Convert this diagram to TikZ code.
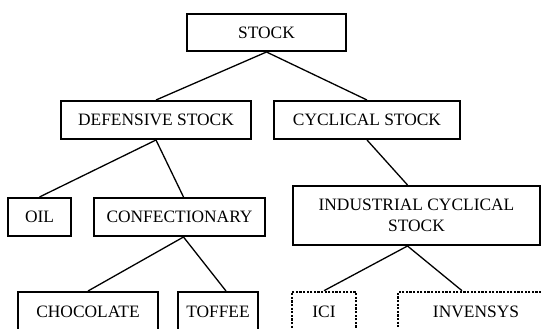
\documentclass[tikz,border=0pt]{standalone}
\usepackage{fontspec}
\setmainfont{Liberation Serif}
\usetikzlibrary{positioning}
\tikzset{
  box/.style={
    rectangle, draw=black, line width=2pt, fill=white,
    minimum height=38pt, inner sep=0pt,
    align=center, font=\fontsize{17.4}{21}\selectfont
  },
  dotbox/.style={box, line width=2.6pt, dash pattern=on 2.2pt off 1.4pt},
  link/.style={line width=1.3pt, draw=black}
}

\begin{document}
\begin{tikzpicture}[x=1pt, y=-1pt, node distance=21pt]
  \useasboundingbox (0,0) rectangle (541,329);
  \clip (0,0) rectangle (541,329);

  \node[box, minimum width=159pt, minimum height=37pt] (stock) at (266.5,32.5) {STOCK};
  \node[box, minimum width=190pt] (defensive) at (156,120) {DEFENSIVE STOCK};
  \node[box, minimum width=186pt, right=of defensive] (cyclical) {CYCLICAL STOCK};
  \node[box, minimum width=63pt] (oil) at (39.5,217) {OIL};
  \node[box, minimum width=171pt, right=of oil] (confect) {CONFECTIONARY};
  \node[box, minimum width=247pt, minimum height=59pt] (industrial) at (416.5,215.5)
    {INDUSTRIAL CYCLICAL\\STOCK};
  \node[box, minimum width=140pt, minimum height=40pt] (choc) at (88,312) {CHOCOLATE};
  \node[box, minimum width=80pt, minimum height=40pt, right=18pt of choc] (toffee) {TOFFEE};
  \node[dotbox, minimum width=64pt, minimum height=40pt] (ici) at (324,312) {ICI};
  \node[dotbox, minimum width=156pt, minimum height=40pt] (invensys) at (476,312) {INVENSYS};

  \draw[link] (stock.south) -- (defensive.north);
  \draw[link] (stock.south) -- (cyclical.north);
  \draw[link] (defensive.south) -- (oil.north);
  \draw[link] (defensive.south) -- ([xshift=4pt]confect.north);
  \draw[link] (cyclical.south) -- ([xshift=-9pt]industrial.north);
  \draw[link] ([xshift=4pt]confect.south) -- (choc.north);
  \draw[link] ([xshift=4pt]confect.south) -- ([xshift=8pt]toffee.north);
  \draw[link] ([xshift=-9pt]industrial.south) -- (ici.north);
  \draw[link] ([xshift=-9pt]industrial.south) -- ([xshift=-14pt]invensys.north);
\end{tikzpicture}
\end{document}
